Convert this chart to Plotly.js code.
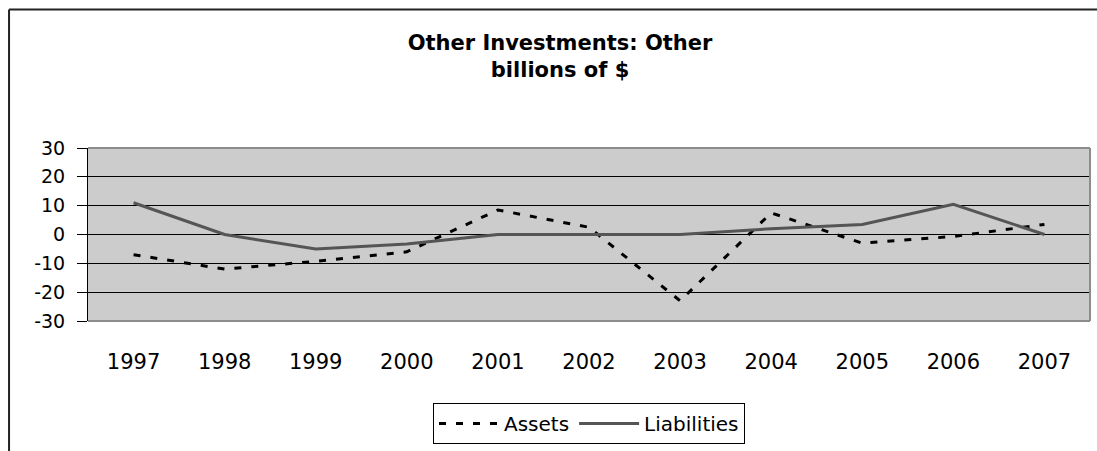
<!DOCTYPE html>
<html>
<head>
<meta charset="utf-8">
<script src="https://cdn.plot.ly/plotly-3.0.1.min.js"></script>
<style>
  html, body { margin: 0; padding: 0; background: #fff; }
  #chart { width: 1097px; height: 451px; }
</style>
</head>
<body>
<div id="chart"></div>
<script>
// --- data (billions of $) ---
const years = ['1997', '1998', '1999', '2000', '2001', '2002', '2003', '2004', '2005', '2006', '2007'];
const assets = [-7, -12, -9.3, -6, 8.5, 2.5, -23, 7.5, -3, -0.7, 3.5];
const liabilities = [11, 0, -5, -3.3, 0, 0, 0, 2, 3.5, 10.5, 0];

const yTicks = [-30, -20, -10, 0, 10, 20, 30];
const yTickText = ['-30', '-20', '-10', '0', '10', '20', '30'];

const FONT = 'DejaVu Sans, Arial, sans-serif';

// category boundaries, used for the tick marks sitting on the zero line
const bounds = years.map((_, i) => i - 0.5).concat([years.length - 0.5]);

const traces = [
    {
        x: years,
        y: assets,
        type: 'scatter',
        mode: 'lines',
        name: 'Assets',
        line: { color: '#000000', width: 3, dash: '7px,10px' }
    },
    {
        x: years,
        y: liabilities,
        type: 'scatter',
        mode: 'lines',
        name: 'Liabilities',
        line: { color: '#555555', width: 3 }
    }
];

// plot area border (top, right, bottom) in grey, like the original
const frame = [
    { x0: 0, x1: 1, y0: 1, y1: 1 },
    { x0: 1, x1: 1, y0: 0, y1: 1 },
    { x0: 0, x1: 1, y0: 0, y1: 0 }
].map(s => Object.assign({ type: 'line', xref: 'paper', yref: 'paper', layer: 'above',
    line: { color: '#8c8c8c', width: 2 } }, s));

// outer chart border, only its top and left edges are visible
const border = [
    { x0: -0.0788, x1: 1.2, y0: 1.80, y1: 1.80 },
    { x0: -0.0788, x1: -0.0788, y0: -1.0, y1: 1.80 }
].map(s => Object.assign({ type: 'line', xref: 'paper', yref: 'paper', layer: 'above',
    line: { color: '#222222', width: 2 } }, s));

const layout = {
    width: 1097,
    height: 451,
    margin: { l: 88, r: 7, t: 148, b: 128 },
    paper_bgcolor: '#ffffff',
    plot_bgcolor: '#cccccc',
    showlegend: true,
    title: {
        text: '<b>Other Investments: Other<br>billions of $</b>',
        font: { family: FONT, size: 21, color: '#000000' },
        x: 560 / 1097,
        xref: 'container',
        xanchor: 'center',
        y: 1 - 50 / 451,
        yref: 'container',
        yanchor: 'top'
    },
    xaxis: {
        type: 'category',
        range: [-0.5, years.length - 0.5],
        showgrid: false,
        zeroline: false,
        showline: false,
        ticks: '',
        ticklabelstandoff: 26,
        tickfont: { family: FONT, size: 21, color: '#000000' },
        fixedrange: true
    },
    xaxis2: {
        overlaying: 'x',
        anchor: 'free',
        position: 0.5,
        range: [-0.5, years.length - 0.5],
        tickmode: 'array',
        tickvals: bounds,
        showticklabels: false,
        ticks: 'outside',
        ticklen: 8,
        tickcolor: '#000000',
        showline: true,
        linecolor: '#000000',
        linewidth: 1,
        showgrid: false,
        zeroline: false
    },
    yaxis: {
        range: [-30, 30],
        tickmode: 'array',
        tickvals: yTicks,
        ticktext: yTickText,
        ticks: 'outside',
        ticklen: 10,
        tickcolor: '#000000',
        ticklabelstandoff: 8,
        showline: true,
        linecolor: '#000000',
        linewidth: 1,
        showgrid: true,
        gridcolor: '#000000',
        gridwidth: 1,
        zeroline: true,
        zerolinecolor: '#000000',
        zerolinewidth: 1,
        tickfont: { family: FONT, size: 19, color: '#000000' },
        fixedrange: true
    },
    legend: {
        orientation: 'h',
        x: 0.5,
        xanchor: 'center',
        y: -0.474,
        yanchor: 'top',
        bgcolor: '#ffffff',
        bordercolor: '#000000',
        borderwidth: 1,
        itemwidth: 60,
        font: { family: FONT, size: 20, color: '#000000' }
    },
    shapes: frame.concat(border)
};

Plotly.newPlot('chart', traces, layout, { displayModeBar: false, staticPlot: true });
</script>
</body>
</html>
